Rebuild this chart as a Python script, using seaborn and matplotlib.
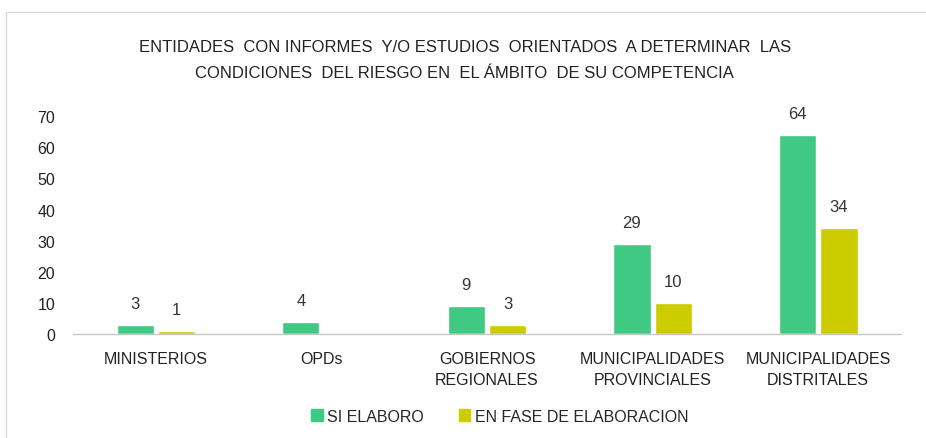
import matplotlib
matplotlib.use("Agg")
import matplotlib.pyplot as plt
import seaborn as sns
import pandas as pd
from matplotlib.patches import Rectangle
from matplotlib.font_manager import fontManager

categories = ["MINISTERIOS", "OPDs", "GOBIERNOS\nREGIONALES",
              "MUNICIPALIDADES\nPROVINCIALES", "MUNICIPALIDADES\nDISTRITALES"]
si_elaboro = [3, 4, 9, 29, 64]
en_fase = [1, 0, 3, 10, 34]
series = ["SI ELABORO", "EN FASE DE ELABORACION"]
yticks = [0, 10, 20, 30, 40, 50, 60, 70]
title = ("ENTIDADES  CON INFORMES  Y/O ESTUDIOS  ORIENTADOS  A DETERMINAR  LAS\n"
         "CONDICIONES  DEL RIESGO EN  EL ÁMBITO  DE SU COMPETENCIA")

colors = ["#40C982", "#CCCC00"]

sns.set_theme(style="white")
names = {f.name for f in fontManager.ttflist}
fam = ["Liberation Sans Narrow", "DejaVu Sans"] if "Liberation Sans Narrow" in names else ["Liberation Sans", "DejaVu Sans"]
plt.rcParams["font.family"] = fam

df = pd.DataFrame({
    "cat": categories * 2,
    "serie": [series[0]] * len(categories) + [series[1]] * len(categories),
    "val": si_elaboro + en_fase,
})

fig = plt.figure(figsize=(9.26, 4.39), dpi=100)
ax = fig.add_axes([0.079, 0.237, 0.894, 0.496])
sns.barplot(data=df, x="cat", y="val", hue="serie", palette=colors,
            width=0.5, gap=0.1, ax=ax, saturation=1, legend=True)

for cont in ax.containers:
    for rect in cont:
        h = rect.get_height()
        if h > 0:
            ax.annotate(f"{int(h)}", (rect.get_x() + rect.get_width() / 2, h),
                        xytext=(0, 10), textcoords="offset points",
                        ha="center", va="bottom", fontsize=12, color="#333333",
                        annotation_clip=False)

ax.set_ylim(0, 70)
ax.set_yticks(yticks)
ax.set_xlim(-0.5, len(categories) - 0.5)
ax.set_xlabel("")
ax.set_ylabel("")
ax.tick_params(axis="both", length=0, labelsize=11.5, colors="#222222")
ax.tick_params(axis="y", pad=13)
ax.tick_params(axis="x", pad=12)
for lbl in ax.get_xticklabels():
    lbl.set_linespacing(1.55)
for s in ["top", "right", "left"]:
    ax.spines[s].set_visible(False)
ax.spines["bottom"].set_color("#C8C8C8")
ax.spines["bottom"].set_linewidth(1)
ax.grid(False)

leg = ax.get_legend()
leg.remove()
handles = [Rectangle((0, 0), 1, 1, color=c) for c in colors]
fig.legend(handles, series, loc="center", bbox_to_anchor=(0.54, 0.05), ncol=2,
           frameon=False, fontsize=11.5, handlelength=0.7, handleheight=0.7,
           handletextpad=0.3, columnspacing=2.2)

fig.text(0.502, 0.863, title, ha="center", va="center", fontsize=12,
         color="#222222", linespacing=1.9)

fig.patches.append(Rectangle((0.006, -0.01), 1.0, 0.98, transform=fig.transFigure,
                             fill=False, edgecolor="#D9D9D9", linewidth=1))

fig.savefig("out.png", dpi=100)
